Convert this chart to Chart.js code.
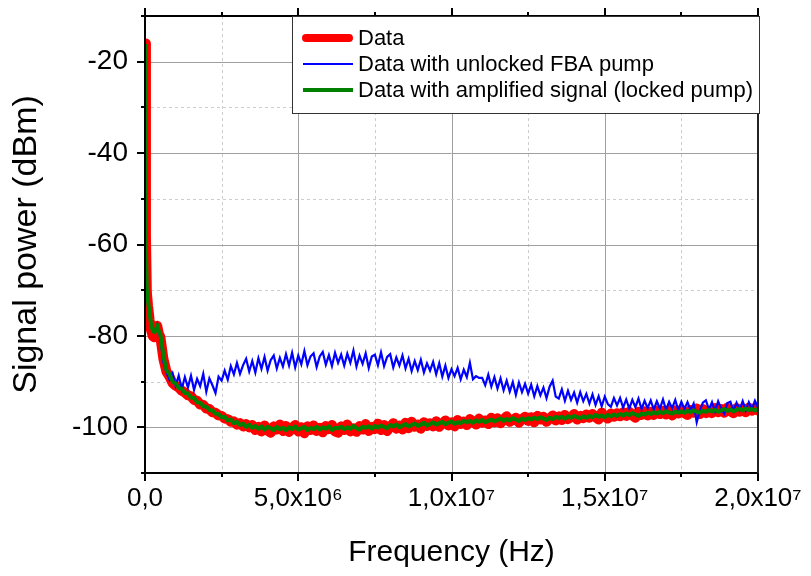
<!DOCTYPE html>
<html>
<head>
<meta charset="utf-8">
<title>Signal power vs frequency</title>
<script src="https://cdn.jsdelivr.net/npm/chart.js@4.4.1/dist/chart.umd.min.js"></script>
<style>
  html, body { margin: 0; padding: 0; background: #fff; }
  #wrap { width: 811px; height: 576px; }
</style>
</head>
<body>
<div id="wrap"><canvas id="chart" width="811" height="576"></canvas></div>
<script>
// frequency in MHz, labels on the axis are written in Hz
const freqMHz = [
  0, 0.03, 0.06, 0.1, 0.15, 0.2, 0.25, 0.3, 0.35, 0.4, 0.45,
  0.5, 0.6, 0.7, 0.8, 0.9, 1.0, 1.1, 1.2, 1.3, 1.4,
  1.5, 1.6, 1.7, 1.8, 1.9, 2.0, 2.1, 2.2, 2.3, 2.4,
  2.5, 2.6, 2.7, 2.8, 2.9, 3.0, 3.1, 3.2, 3.3, 3.4,
  3.5, 3.6, 3.7, 3.8, 3.9, 4.0, 4.1, 4.2, 4.3, 4.4,
  4.5, 4.6, 4.7, 4.8, 4.9, 5.0, 5.1, 5.2, 5.3, 5.4,
  5.5, 5.6, 5.7, 5.8, 5.9, 6.0, 6.1, 6.2, 6.3, 6.4,
  6.5, 6.6, 6.7, 6.8, 6.9, 7.0, 7.1, 7.2, 7.3, 7.4,
  7.5, 7.6, 7.7, 7.8, 7.9, 8.0, 8.1, 8.2, 8.3, 8.4,
  8.5, 8.6, 8.7, 8.8, 8.9, 9.0, 9.1, 9.2, 9.3, 9.4,
  9.5, 9.6, 9.7, 9.8, 9.9, 10.0, 10.1, 10.2, 10.3, 10.4,
  10.5, 10.6, 10.7, 10.8, 10.9, 11.0, 11.1, 11.2, 11.3, 11.4,
  11.5, 11.6, 11.7, 11.8, 11.9, 12.0, 12.1, 12.2, 12.3, 12.4,
  12.5, 12.6, 12.7, 12.8, 12.9, 13.0, 13.1, 13.2, 13.3, 13.4,
  13.5, 13.6, 13.7, 13.8, 13.9, 14.0, 14.1, 14.2, 14.3, 14.4,
  14.5, 14.6, 14.7, 14.8, 14.9, 15.0, 15.1, 15.2, 15.3, 15.4,
  15.5, 15.6, 15.7, 15.8, 15.9, 16.0, 16.1, 16.2, 16.3, 16.4,
  16.5, 16.6, 16.7, 16.8, 16.9, 17.0, 17.1, 17.2, 17.3, 17.4,
  17.5, 17.6, 17.7, 17.8, 17.9, 18.0, 18.1, 18.2, 18.3, 18.4,
  18.5, 18.6, 18.7, 18.8, 18.9, 19.0, 19.1, 19.2, 19.3, 19.4,
  19.5, 19.6, 19.7, 19.8, 19.9, 20.0
];

const powerData = [
  -16.0, -58, -70.5, -73.5, -76.5, -78.8, -80.0, -80.3, -79.0, -77.8, -79.5,
  -80.2, -85.0, -87.8, -88.9, -90.3, -90.9, -91.3, -92.0, -92.4, -93.0,
  -93.2, -94.0, -94.2, -95.0, -95.1, -95.9, -96.0, -96.7, -96.8, -97.4,
  -97.5, -98.1, -98.2, -98.8, -98.7, -99.4, -99.1, -99.8, -99.3, -100.0,
  -99.5, -100.6, -99.9, -100.9, -99.6, -100.7, -101.2, -99.8, -100.5, -99.4,
  -100.8, -99.7, -101.0, -100.2, -99.5, -100.9, -100.0, -101.3, -99.8, -100.6,
  -99.6, -100.8, -100.1, -101.1, -99.7, -100.4, -99.5, -100.9, -101.2, -99.8,
  -100.6, -99.4, -100.9, -100.2, -101.0, -99.7, -100.5, -99.3, -100.8, -99.9,
  -100.4, -99.2, -100.6, -99.5, -100.8, -99.9, -99.1, -100.3, -99.6, -100.5,
  -99.0, -100.2, -98.8, -99.9, -99.4, -100.3, -98.9, -99.7, -99.1, -99.8,
  -98.7, -99.9, -99.2, -98.5, -99.6, -98.9, -99.8, -98.4, -99.3, -98.8,
  -99.5, -98.2, -98.8, -99.4, -98.1, -99.0, -98.5, -99.3, -97.9, -98.9,
  -98.0, -99.1, -98.3, -97.6, -98.8, -98.4, -97.9, -99.0, -98.2, -97.7,
  -98.6, -97.8, -98.9, -97.5, -98.3, -97.7, -98.8, -98.1, -97.4, -98.5,
  -97.6, -98.4, -97.3, -98.2, -97.8, -97.1, -98.3, -97.5, -98.0, -97.2,
  -97.9, -97.1, -97.8, -98.3, -96.8, -97.6, -98.1, -97.0, -97.7, -96.9,
  -97.6, -96.7, -97.5, -96.6, -97.4, -97.9, -96.6, -97.3, -96.5, -97.4,
  -96.6, -97.3, -96.3, -97.1, -96.4, -97.2, -96.2, -97.4, -96.3, -97.0,
  -96.1, -96.9, -97.3, -96.2, -96.8, -95.9, -97.1, -96.0, -96.9, -96.4,
  -96.9, -95.8, -96.7, -96.0, -96.8, -95.7, -96.5, -96.9, -95.8, -96.6,
  -95.9, -96.7, -95.7, -96.4, -95.8, -96.3
];

const powerUnlocked = [
  -16.5, -60, -70, -72.5, -75, -77.5, -78.8, -79.2, -78.8, -77.6, -79.0,
  -80.5, -85.8, -88.0, -89.6, -88.2, -91.0, -88.7, -91.6, -89.0, -91.3,
  -88.7, -91.8, -89.4, -91.0, -88.3, -92.2, -89.3, -90.8, -92.5, -88.9,
  -89.8, -87.6, -89.6, -86.6, -88.4, -85.9, -88.3, -86.4, -85.0, -87.8,
  -85.5, -88.0, -84.9, -87.2, -84.6, -87.6, -85.3, -84.3, -87.1, -84.8,
  -86.7, -84.0, -86.5, -83.7, -86.9, -84.3, -86.2, -83.3, -86.4, -84.5,
  -83.8, -86.8, -84.5, -83.5, -86.3, -84.2, -86.6, -83.7, -85.9, -84.1,
  -86.5, -83.9, -85.9, -83.2, -86.7, -84.3, -86.1, -83.8, -87.0, -84.5,
  -84.1, -86.4, -83.6, -86.6, -84.6, -84.0, -86.9, -84.7, -86.5, -84.3,
  -87.1, -85.0, -87.7, -85.5, -87.5, -85.2, -88.0, -86.0, -87.6, -85.7,
  -88.4, -86.0, -88.9, -86.5, -89.2, -87.3, -88.8, -87.0, -89.5, -87.4,
  -89.0, -85.9, -89.5, -88.8, -89.2, -89.2, -90.8, -88.5, -91.1, -89.0,
  -91.5, -89.3, -91.9, -89.8, -92.2, -90.1, -92.9, -90.2, -92.3, -90.5,
  -92.6, -90.7, -93.2, -91.0, -93.0, -91.3, -93.6, -91.1, -89.8, -93.3,
  -93.7, -91.7, -94.2, -92.0, -94.0, -92.4, -94.6, -92.3, -94.3, -92.7,
  -94.8, -92.8, -95.1, -93.2, -95.4, -93.3, -94.9, -95.5, -93.6, -95.2,
  -93.6, -95.7, -93.9, -95.9, -94.0, -95.6, -93.7, -96.0, -94.2, -95.8,
  -94.1, -96.1, -94.3, -95.9, -93.9, -96.2, -94.4, -95.8, -94.0, -96.3,
  -94.4, -96.0, -94.5, -96.2, -94.8, -98.9, -96.4, -94.6, -94.1, -96.1,
  -94.5, -96.5, -94.3, -96.0, -97.0, -94.7, -94.4, -96.4, -94.6, -96.2,
  -94.3, -96.3, -94.5, -96.1, -94.2, -95.7
];

const powerAmplified = [
  -16.5, -60, -70, -72.5, -75, -77.5, -78.8, -79.2, -78.8, -77.6, -79.0,
  -79.6, -84.3, -87.5, -88.4, -90.0, -90.4, -91.4, -91.6, -92.5, -92.6,
  -93.5, -93.6, -94.5, -94.6, -95.4, -95.5, -96.2, -96.3, -97.0, -97.1,
  -97.8, -97.7, -98.5, -98.3, -99.1, -98.8, -99.5, -99.2, -99.9, -99.4,
  -100.1, -99.7, -100.3, -99.8, -100.5, -99.9, -100.2, -100.6, -99.9, -100.4,
  -100.1, -100.6, -100.0, -100.4, -99.8, -100.5, -100.2, -99.9, -100.6, -100.1,
  -100.4, -99.9, -100.5, -100.0, -100.3, -99.8, -100.6, -100.1, -100.2, -99.9,
  -100.4, -100.0, -100.3, -99.7, -100.2, -100.5, -99.9, -100.1, -99.8, -100.3,
  -99.7, -100.1, -99.6, -99.9, -100.2, -99.5, -99.8, -99.4, -100.0, -99.6,
  -99.3, -99.8, -99.5, -99.2, -99.7, -99.4, -99.0, -99.6, -99.3, -98.9,
  -99.4, -99.1, -98.8, -99.3, -99.0, -98.7, -99.2, -98.9, -99.1, -98.6,
  -98.9, -98.6, -99.0, -98.5, -98.8, -98.4, -98.9, -98.6, -98.3, -98.7,
  -98.4, -98.1, -98.6, -98.2, -98.5, -98.0, -98.3, -98.6, -98.1, -98.4,
  -98.0, -98.3, -97.9, -98.2, -97.8, -98.1, -98.4, -97.9, -98.2, -97.7,
  -98.0, -97.7, -98.1, -97.6, -97.9, -97.5, -97.8, -98.0, -97.6, -97.9,
  -97.5, -97.8, -97.3, -97.7, -97.4, -97.8, -97.3, -97.6, -97.2, -97.5,
  -97.1, -97.4, -97.0, -97.3, -96.9, -97.2, -97.5, -97.0, -97.2, -96.8,
  -97.1, -96.7, -97.0, -96.6, -96.9, -96.5, -96.8, -97.0, -96.6, -96.8,
  -96.5, -96.8, -96.4, -96.7, -96.3, -96.6, -96.8, -96.4, -96.6, -96.2,
  -96.5, -96.2, -96.6, -96.3, -96.0, -96.4, -96.1, -96.5, -96.2, -96.0,
  -96.3, -95.9, -96.2, -96.0, -96.3, -96.0
];

const seriesLabels = ['Data', 'Data with unlocked FBA pump', 'Data with amplified signal (locked pump)'];
const xTickValues = [0, 5, 10, 15, 20];
const xTickLabels = ['0,0', '5,0x10⁶', '1,0x10⁷', '1,5x10⁷', '2,0x10⁷'];
const yTickValues = [-100, -80, -60, -40, -20];

const FONT = '"Liberation Sans", Arial, sans-serif';

function pts(ys) { return ys.map((y, i) => ({ x: freqMHz[i], y })); }

// grid, frame with outward ticks, and the boxed legend inside the plot
const framePlugin = {
  id: 'frame',
  beforeDatasetsDraw(chart) {
    const { ctx, chartArea: a, scales: { x, y } } = chart;
    ctx.save();
    ctx.lineWidth = 1;
    x.ticks.forEach(t => {
      const px = Math.round(x.getPixelForValue(t.value)) + 0.5;
      const major = xTickValues.includes(t.value);
      ctx.strokeStyle = major ? '#a0a0a0' : '#cdcdcd';
      ctx.setLineDash(major ? [] : [3, 3]);
      ctx.beginPath(); ctx.moveTo(px, a.top); ctx.lineTo(px, a.bottom); ctx.stroke();
    });
    y.ticks.forEach(t => {
      const py = Math.round(y.getPixelForValue(t.value)) + 0.5;
      const major = yTickValues.includes(t.value);
      ctx.strokeStyle = major ? '#a0a0a0' : '#cdcdcd';
      ctx.setLineDash(major ? [] : [3, 3]);
      ctx.beginPath(); ctx.moveTo(a.left, py); ctx.lineTo(a.right, py); ctx.stroke();
    });
    ctx.restore();
  },
  afterDatasetsDraw(chart) {
    const { ctx, chartArea: a, scales: { x, y } } = chart;
    ctx.save();
    ctx.strokeStyle = '#000';
    ctx.lineWidth = 2;
    ctx.beginPath();
    ctx.moveTo(a.left, a.top); ctx.lineTo(a.right, a.top);
    ctx.moveTo(a.left, a.bottom); ctx.lineTo(a.right, a.bottom);
    ctx.moveTo(a.left, a.top); ctx.lineTo(a.left, a.bottom);
    ctx.stroke();
    ctx.strokeStyle = '#222';
    ctx.beginPath();
    ctx.moveTo(a.right, a.top); ctx.lineTo(a.right, a.bottom);
    ctx.stroke();
    ctx.strokeStyle = '#000';
    ctx.beginPath();
    x.ticks.forEach(t => {
      const px = Math.round(x.getPixelForValue(t.value));
      const len = xTickValues.includes(t.value) ? 8 : 4;
      ctx.moveTo(px, a.bottom); ctx.lineTo(px, a.bottom + len);
      ctx.moveTo(px, a.top); ctx.lineTo(px, a.top - len);
    });
    y.ticks.forEach(t => {
      const py = Math.round(y.getPixelForValue(t.value));
      const len = yTickValues.includes(t.value) ? 8 : 4;
      ctx.moveTo(a.left, py); ctx.lineTo(a.left - len, py);
    });
    ctx.stroke();
    ctx.restore();
  },
  afterDraw(chart) {
    const { ctx, chartArea: a } = chart;
    const bw = 468, bh = 98;
    const bx = a.right + 2 - bw, by = a.top;
    ctx.save();
    ctx.fillStyle = '#fff';
    ctx.fillRect(bx, by, bw, bh);
    ctx.strokeStyle = '#333';
    ctx.lineWidth = 1;
    ctx.strokeRect(bx + 0.5, by + 0.5, bw - 1, bh - 1);
    ctx.font = '22px ' + FONT;
    ctx.textBaseline = 'middle';
    ctx.textAlign = 'left';
    chart.data.datasets.forEach((ds, i) => {
      const ry = by + 22 + i * 26;
      ctx.strokeStyle = ds.borderColor;
      ctx.lineWidth = i === 0 ? 8 : ds.borderWidth;
      ctx.lineCap = i === 0 ? 'round' : 'butt';
      const x0 = i === 0 ? bx + 14 : bx + 11, x1 = i === 0 ? bx + 57 : bx + 61;
      ctx.beginPath(); ctx.moveTo(x0, ry); ctx.lineTo(x1, ry); ctx.stroke();
      ctx.fillStyle = '#000';
      ctx.fillText(ds.label, bx + 66, ry + 1);
    });
    ctx.restore();
  }
};

new Chart(document.getElementById('chart'), {
  type: 'line',
  data: {
    datasets: [
      { label: seriesLabels[0], data: pts(powerData), borderColor: '#ff0000', borderWidth: 10,
        borderCapStyle: 'round', borderJoinStyle: 'round', order: 3 },
      { label: seriesLabels[1], data: pts(powerUnlocked), borderColor: '#0000ff', borderWidth: 2.2, order: 2 },
      { label: seriesLabels[2], data: pts(powerAmplified), borderColor: '#008000', borderWidth: 4,
        borderJoinStyle: 'round', order: 1 }
    ]
  },
  options: {
    responsive: false,
    animation: false,
    devicePixelRatio: 1,
    parsing: false,
    elements: { point: { radius: 0 }, line: { tension: 0, fill: false } },
    layout: { padding: { top: 16, right: 53, left: 0, bottom: 0 } },
    plugins: { legend: { display: false }, tooltip: { enabled: false } },
    scales: {
      x: {
        type: 'linear', min: 0, max: 20,
        grid: { display: false },
        border: { display: false },
        afterFit(s) { s.height = 103; s.paddingLeft = 0; s.paddingRight = 0; },
        ticks: {
          stepSize: 2.5, autoSkip: false, maxRotation: 0, padding: 2,
          color: '#000', font: { family: FONT, size: 26 },
          callback: v => { const i = xTickValues.indexOf(v); return i >= 0 ? xTickLabels[i] : ''; }
        },
        title: { display: true, text: 'Frequency (Hz)', color: '#000',
                 font: { family: FONT, size: 30 }, padding: { top: 0, bottom: 5 } }
      },
      y: {
        type: 'linear', min: -110, max: -10,
        grid: { display: false },
        border: { display: false },
        afterFit(s) { s.width = 145; s.paddingTop = 0; s.paddingBottom = 0; },
        ticks: {
          stepSize: 10, autoSkip: false, padding: 9,
          color: '#000', font: { family: FONT, size: 28 },
          callback: v => yTickValues.includes(v) ? String(v) : ''
        },
        title: { display: true, text: 'Signal power (dBm)', color: '#000',
                 font: { family: FONT, size: 34 }, padding: { top: 6, bottom: 0 } }
      }
    }
  },
  plugins: [framePlugin]
});
</script>
</body>
</html>
